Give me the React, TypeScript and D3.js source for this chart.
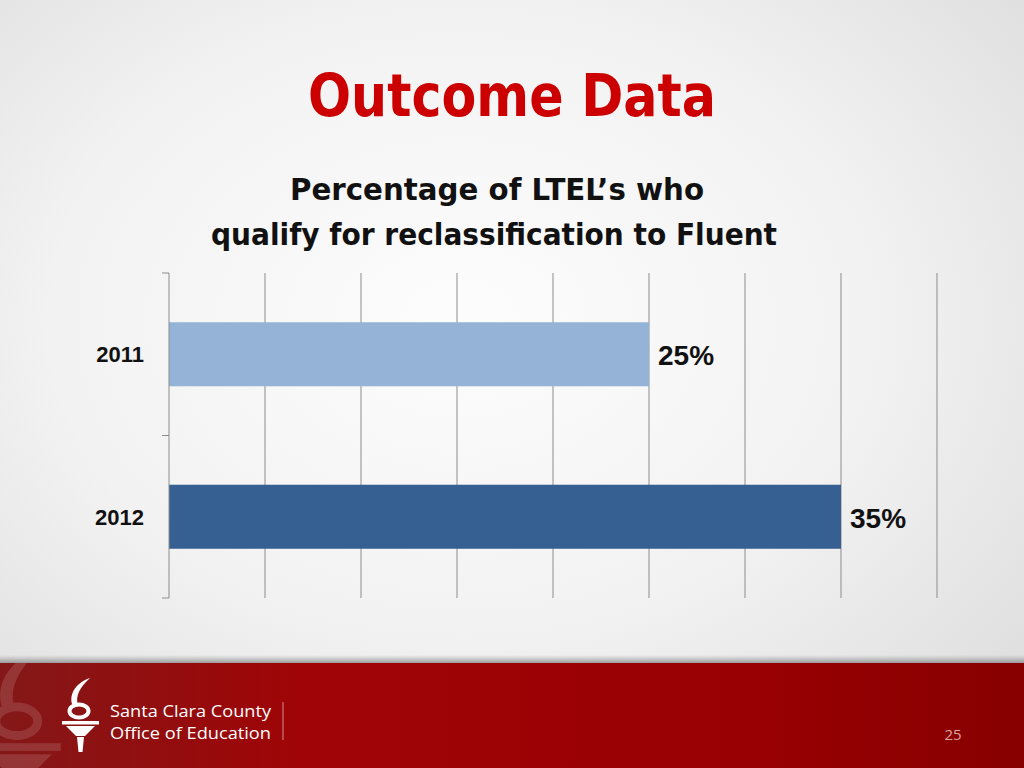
import React from "react";
import * as d3 from "d3";

// chart data
const years = ["2011", "2012"];
const values = [25, 35];
const barColors = ["#95b3d7", "#376092"];
const gridTicks = [5, 10, 15, 20, 25, 30, 35, 40];

const W = 1024;
const H = 768;
const plot = { left: 169, right: 937, top: 273, bottom: 598 };

const TorchShape: React.FC<{ fill: string }> = ({ fill }) => (
  <g fill={fill}>
    <path d="M90,678 C78,682 69,692 72,704 L78,705 C75,696 80,687 90,678 Z" />
    <ellipse cx={79} cy={711} rx={9.5} ry={6.5} fill="none" stroke={fill} strokeWidth={4} />
    <rect x={62} y={721} width={37} height={3.5} />
    <path d="M66,726 L95,726 L85,736 L76,736 Z" />
    <path d="M77,737 L84,737 L82.5,752 L78.5,752 Z" />
  </g>
);

const App: React.FC = () => {
  const x = d3.scaleLinear().domain([0, 40]).range([plot.left, plot.right]);
  const y = d3
    .scaleBand<string>()
    .domain(years)
    .range([plot.top, plot.bottom])
    .paddingInner(0.606)
    .paddingOuter(0.303);
  const band = d3.scaleBand<string>().domain(years).range([plot.top, plot.bottom]);
  const tickYs = [plot.top, ...years.map((yr) => band(yr)! + band.bandwidth())];

  return (
    <div style={{ position: "absolute", left: 0, top: 0 }}>
      <svg width={W} height={H} style={{ display: "block" }}>
        <defs>
          <radialGradient id="bg" cx="45%" cy="42%" r="80%">
            <stop offset="0" stopColor="#fdfdfd" />
            <stop offset="0.5" stopColor="#f2f2f2" />
            <stop offset="1" stopColor="#d9d9d9" />
          </radialGradient>
          <linearGradient id="foot" x1="0" x2="1" y1="0" y2="0">
            <stop offset="0" stopColor="#841818" />
            <stop offset="0.3" stopColor="#a00406" />
            <stop offset="0.75" stopColor="#980003" />
            <stop offset="1" stopColor="#870000" />
          </linearGradient>
          <linearGradient id="shadow" x1="0" x2="0" y1="0" y2="1">
            <stop offset="0" stopColor="#999" stopOpacity={0} />
            <stop offset="1" stopColor="#888" stopOpacity={0.8} />
          </linearGradient>
          <clipPath id="footClip">
            <rect x={0} y={663} width={W} height={105} />
          </clipPath>
        </defs>

        <rect width={W} height={H} fill="url(#bg)" />

        {/* titles */}
        <text
          x={512}
          y={116}
          textAnchor="middle"
          fontFamily="'DejaVu Sans', sans-serif"
          fontWeight="bold"
          fontSize={58}
          fill="#cc0000"
          textLength={408}
          lengthAdjust="spacingAndGlyphs"
        >
          Outcome Data
        </text>
        <text
          x={497}
          y={200}
          textAnchor="middle"
          fontFamily="'DejaVu Sans', sans-serif"
          fontWeight="bold"
          fontSize={31}
          fill="#111"
          textLength={414}
          lengthAdjust="spacingAndGlyphs"
        >
          Percentage of LTEL’s who
        </text>
        <text
          x={494}
          y={245}
          textAnchor="middle"
          fontFamily="'DejaVu Sans', sans-serif"
          fontWeight="bold"
          fontSize={31}
          fill="#111"
          textLength={566}
          lengthAdjust="spacingAndGlyphs"
        >
          qualify for reclassification to Fluent
        </text>

        {/* grid */}
        {gridTicks.map((t) => (
          <line
            key={t}
            x1={x(t)}
            x2={x(t)}
            y1={plot.top}
            y2={plot.bottom}
            stroke="#8c8c8c"
            strokeWidth={1}
          />
        ))}

        {/* bars */}
        {years.map((yr, i) => (
          <g key={yr}>
            <rect
              x={x(0)}
              y={y(yr)!}
              width={x(values[i]) - x(0)}
              height={y.bandwidth()}
              fill={barColors[i]}
            />
            <text
              x={x(values[i]) + 9}
              y={y(yr)! + y.bandwidth() / 2 + 11}
              fontFamily="'Liberation Sans', Arial, sans-serif"
              fontWeight="bold"
              fontSize={28}
              fill="#111"
            >
              {values[i]}%
            </text>
            <text
              x={144}
              y={y(yr)! + y.bandwidth() / 2 + 8}
              textAnchor="end"
              fontFamily="'Liberation Sans', Arial, sans-serif"
              fontWeight="bold"
              fontSize={22}
              fill="#111"
            >
              {yr}
            </text>
          </g>
        ))}

        {/* category axis */}
        <line x1={x(0)} x2={x(0)} y1={plot.top} y2={plot.bottom} stroke="#8c8c8c" />
        {tickYs.map((ty, i) => (
          <line key={i} x1={x(0) - 7} x2={x(0)} y1={ty} y2={ty} stroke="#8c8c8c" />
        ))}

        {/* footer */}
        <rect x={0} y={655} width={W} height={8} fill="url(#shadow)" />
        <rect x={0} y={663} width={W} height={105} fill="url(#foot)" />
        <g clipPath="url(#footClip)" opacity={0.13}>
          <g transform="translate(-157,-843) scale(2.2)">
            <TorchShape fill="#ffffff" />
          </g>
        </g>
        <TorchShape fill="#ffffff" />
        <text
          x={110}
          y={717}
          fontFamily="'Open Sans', sans-serif"
          fontSize={16}
          fill="#ffffff"
          textLength={161}
          lengthAdjust="spacingAndGlyphs"
        >
          Santa Clara County
        </text>
        <text
          x={110}
          y={739}
          fontFamily="'Open Sans', sans-serif"
          fontSize={16}
          fill="#ffffff"
          textLength={161}
          lengthAdjust="spacingAndGlyphs"
        >
          Office of Education
        </text>
        <line x1={283} x2={283} y1={702} y2={740} stroke="#ffffff" strokeOpacity={0.55} />
        <text
          x={953}
          y={740}
          textAnchor="middle"
          fontFamily="'Open Sans', sans-serif"
          fontSize={15}
          fill="#d9a3a3"
        >
          25
        </text>
      </svg>
    </div>
  );
};

export default App;
